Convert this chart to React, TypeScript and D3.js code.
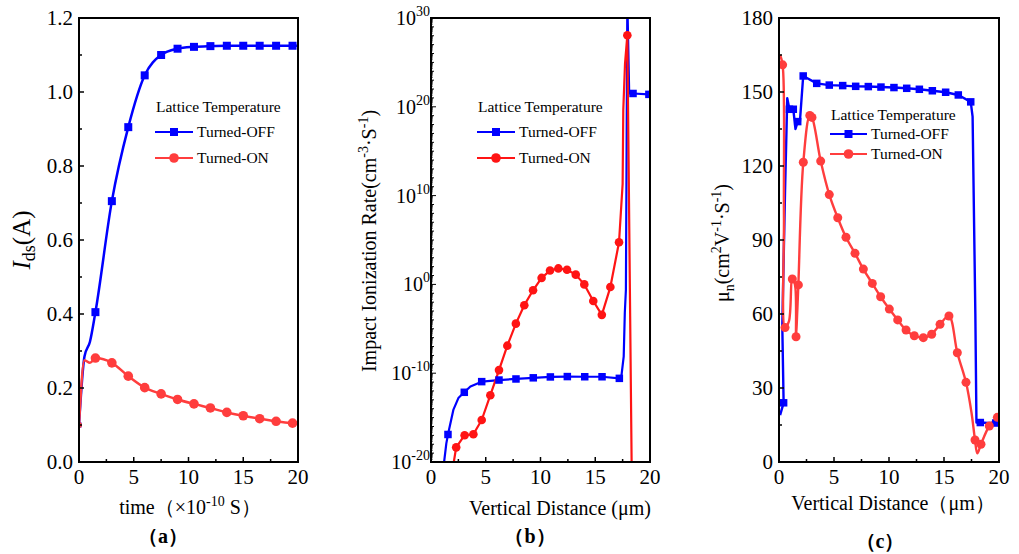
import React from "react";
import * as d3 from "d3";

const W = 1019;
const H = 554;
const FONT = "'Liberation Serif','Times New Roman',serif";
const BLUE = "#0000ff";
const RED_A = "#ff3d3d";
const RED_B = "#ff1414";

// ---------- Panel (a): Ids vs time ----------
const timeA = [0, 0.5, 1.0, 1.5, 3, 4.5, 6, 7.5, 9, 10.5, 12, 13.5, 15, 16.5, 18, 19.5, 20];
const offA = [0.1, 0.285, 0.325, 0.405, 0.705, 0.905, 1.045, 1.1, 1.117, 1.122, 1.124, 1.125, 1.125, 1.125, 1.125, 1.125, 1.125];
const onA = [0.1, 0.275, 0.268, 0.281, 0.268, 0.232, 0.201, 0.184, 0.169, 0.157, 0.146, 0.134, 0.125, 0.117, 0.11, 0.105, 0.104];
const markA = [0, 1.5, 3, 4.5, 6, 7.5, 9, 10.5, 12, 13.5, 15, 16.5, 18, 19.5];
const yTicksA = [0, 0.2, 0.4, 0.6, 0.8, 1.0, 1.2];
const xTicks = [0, 5, 10, 15, 20];

// ---------- Panel (b): impact ionization (log10 of rate) ----------
const distOffB = [1.1, 1.4, 1.55, 2.05, 2.5, 3.04, 3.6, 4.63, 6.21, 7.76, 9.34, 10.9, 12.45, 14.04, 15.62, 17.2, 17.4, 17.6, 17.7, 17.8, 17.93, 18.1, 18.45, 19.9, 20];
const expOffB = [-21, -17.9, -16.9, -14.1, -12.8, -12.15, -11.5, -10.95, -10.77, -10.65, -10.52, -10.42, -10.38, -10.4, -10.4, -10.58, -10.2, -8.1, -3.2, -0.6, 32, 21.5, 21.5, 21.4, 21.4];
const markOffB = [1.55, 3.04, 4.63, 6.21, 7.76, 9.34, 10.9, 12.45, 14.04, 15.62, 17.2, 18.45, 19.9];
const distOnB = [1.95, 2.3, 3.07, 3.87, 4.63, 5.42, 6.21, 6.97, 7.75, 8.52, 9.32, 10.1, 10.87, 11.63, 12.42, 13.22, 14.0, 14.82, 15.6, 16.38, 17.17, 17.5, 17.56, 17.72, 17.93, 18.33];
const expOnB = [-21, -18.35, -16.98, -16.88, -15.27, -12.48, -9.65, -6.9, -4.42, -2.34, -0.66, 0.73, 1.56, 1.8, 1.65, 1.1, 0, -1.87, -3.43, -0.3, 4.74, 11.3, 19.6, 24.9, 28.05, -21];
const markOnB = [2.3, 3.07, 3.87, 4.63, 5.42, 6.21, 6.97, 7.75, 8.52, 9.32, 10.1, 10.87, 11.63, 12.42, 13.22, 14.0, 14.82, 15.6, 16.38, 17.17, 17.93];
const yExpTicksB = [-20, -10, 0, 10, 20, 30];

// ---------- Panel (c): electron mobility ----------
const distOffC = [0.1, 0.42, 0.3, 0.55, 0.75, 0.95, 1.3, 1.5, 1.7, 1.9, 2.2, 3.43, 4.57, 5.79, 6.97, 8.12, 9.27, 10.45, 11.61, 12.76, 13.94, 15.15, 16.3, 17.43, 17.6, 17.85, 17.95, 18.3, 19.0, 19.7, 20];
const muOffC = [19, 24, 55, 110, 147.5, 143, 143, 135, 138, 138, 156.5, 153.5, 152.8, 152.6, 152.3, 152.2, 152, 151.8, 151.5, 151.1, 150.5, 149.9, 148.8, 146, 140, 60, 16, 16, 15.8, 15.8, 16];
const markOffC = [0.42, 0.95, 1.3, 1.7, 2.2, 3.43, 4.57, 5.79, 6.97, 8.12, 9.27, 10.45, 11.61, 12.76, 13.94, 15.15, 16.3, 17.43, 18.3, 19.7];
const distOnC = [0.1, 0.33, 0.45, 0.55, 0.9, 1.21, 1.45, 1.55, 1.65, 1.76, 2.21, 2.8, 3.0, 3.79, 4.57, 5.34, 6.09, 6.91, 7.67, 8.48, 9.24, 10.03, 10.79, 11.55, 12.3, 13.12, 13.88, 14.64, 15.45, 16.21, 17.0, 17.5, 17.82, 18.03, 18.36, 19.12, 19.85];
const muOnC = [165, 161, 100, 54.5, 57, 74.2, 72, 50.8, 60, 71.8, 121.5, 140.5, 139.7, 122, 108.4, 99, 91.1, 84.6, 78.2, 72.4, 67, 62, 57.6, 53.5, 51.2, 50.4, 51.8, 55.8, 59.2, 44.3, 32.3, 20, 8.9, 3.5, 7.2, 14.6, 18.1];
const markOnC = [0.33, 0.55, 1.21, 1.55, 1.76, 2.21, 2.8, 3.0, 3.79, 4.57, 5.34, 6.09, 6.91, 7.67, 8.48, 9.24, 10.03, 10.79, 11.55, 12.3, 13.12, 13.88, 14.64, 15.45, 16.21, 17.0, 17.82, 18.36, 19.12, 19.85];
const yTicksC = [0, 30, 60, 90, 120, 150, 180];

const legendTitle = "Lattice Temperature";
const legendOff = "Turned-OFF";
const legendOn = "Turned-ON";

type Box = { l: number; r: number; t: number; b: number };

function Frame({ box }: { box: Box }) {
  return (
    <rect x={box.l} y={box.t} width={box.r - box.l} height={box.b - box.t} fill="none" stroke="#000" strokeWidth={2} />
  );
}

function XAxis({ box, x }: { box: Box; x: d3.ScaleLinear<number, number> }) {
  const minors = d3.range(0, 20.01, 2.5);
  return (
    <g>
      {minors.map((v) => (
        <line key={"m" + v} x1={x(v)} x2={x(v)} y1={box.b} y2={box.b - (v % 5 === 0 ? 5 : 3)} stroke="#000" strokeWidth={1.5} />
      ))}
      {xTicks.map((v) => (
        <text key={v} x={x(v)} y={box.b + 22} textAnchor="middle" fontSize={21} fontFamily={FONT}>
          {v}
        </text>
      ))}
    </g>
  );
}

function YAxisLin({ box, y, ticks, minorStep, fmt }: { box: Box; y: d3.ScaleLinear<number, number>; ticks: number[]; minorStep: number; fmt: (v: number) => string }) {
  const [d0, d1] = y.domain();
  const minors = d3.range(d0, d1 + 1e-9, minorStep);
  return (
    <g>
      {minors.map((v, i) => (
        <line key={"m" + i} x1={box.l} x2={box.l + (i % 2 === 0 ? 5 : 3)} y1={y(v)} y2={y(v)} stroke="#000" strokeWidth={1.5} />
      ))}
      {ticks.map((v) => (
        <text key={v} x={box.l - 6} y={y(v) + 7} textAnchor="end" fontSize={21} fontFamily={FONT}>
          {fmt(v)}
        </text>
      ))}
    </g>
  );
}

function Square({ cx, cy, s, color }: { cx: number; cy: number; s: number; color: string }) {
  return <rect x={cx - s / 2} y={cy - s / 2} width={s} height={s} fill={color} />;
}

function Legend({ x, yTitle, yOff, yOn, red, sq, r, len }: { x: number; yTitle: number; yOff: number; yOn: number; red: string; sq: number; r: number; len: number }) {
  const mid = x + len / 2;
  return (
    <g fontFamily={FONT} fontSize={15.5}>
      <text x={x + 1} y={yTitle + 5}>{legendTitle}</text>
      <line x1={x} x2={x + len} y1={yOff} y2={yOff} stroke={BLUE} strokeWidth={2} />
      <Square cx={mid} cy={yOff} s={sq} color={BLUE} />
      <text x={x + len + 4} y={yOff + 5}>{legendOff}</text>
      <line x1={x} x2={x + len} y1={yOn} y2={yOn} stroke={red} strokeWidth={2} />
      <circle cx={mid} cy={yOn} r={r} fill={red} />
      <text x={x + len + 4} y={yOn + 5}>{legendOn}</text>
    </g>
  );
}

function PanelA() {
  const box: Box = { l: 79, r: 298, t: 18, b: 462 };
  const x = d3.scaleLinear().domain([0, 20]).range([box.l, box.r]);
  const y = d3.scaleLinear().domain([0, 1.2]).range([box.b, box.t]);
  const line = d3.line<number>().x((_, i) => x(timeA[i])).y((d) => y(d)).curve(d3.curveMonotoneX);
  const idx = (t: number) => timeA.indexOf(t);
  return (
    <g>
      <defs>
        <clipPath id="clipA">
          <rect x={box.l} y={box.t} width={box.r - box.l} height={box.b - box.t} />
        </clipPath>
      </defs>
      <g clipPath="url(#clipA)">
        <path d={line(offA) || ""} fill="none" stroke={BLUE} strokeWidth={2.5} />
        <path d={line(onA) || ""} fill="none" stroke={RED_A} strokeWidth={2.5} />
        {markA.map((t) => (
          <Square key={"s" + t} cx={x(t)} cy={y(offA[idx(t)])} s={t === 0 ? 5 : 8} color={BLUE} />
        ))}
        {markA.map((t) => (
          <circle key={"c" + t} cx={x(t)} cy={y(onA[idx(t)])} r={t === 0 ? 3 : 4.8} fill={RED_A} />
        ))}
      </g>
      <Frame box={box} />
      <XAxis box={box} x={x} />
      <YAxisLin box={box} y={y} ticks={yTicksA} minorStep={0.1} fmt={(v) => v.toFixed(1)} />
      <Legend x={155} yTitle={107} yOff={132} yOn={158} red={RED_A} sq={8} r={4.8} len={38} />
      <text transform="translate(30,240) rotate(-90)" textAnchor="middle" fontSize={25} fontFamily={FONT}>
        <tspan fontStyle="italic">I</tspan>
        <tspan fontSize={18} dy={5}>ds</tspan>
        <tspan dy={-5}>(A)</tspan>
      </text>
      <text x={190} y={514} textAnchor="middle" fontSize={20} fontFamily={FONT}>
        time（×10<tspan fontSize={14} dy={-8}>-10</tspan>
        <tspan dy={8}> S）</tspan>
      </text>
      <text x={163} y={543} textAnchor="middle" fontSize={20} fontWeight="bold" fontFamily={FONT}>（a）</text>
    </g>
  );
}

function PanelB() {
  const box: Box = { l: 431, r: 650, t: 18, b: 462 };
  const x = d3.scaleLinear().domain([0, 20]).range([box.l, box.r]);
  const y = d3.scaleLog().domain([1e-20, 1e30]).range([box.b, box.t]);
  const ye = (e: number) => y(Math.pow(10, e));
  const lineOff = d3.line<number>().x((_, i) => x(distOffB[i])).y((e) => ye(e));
  const lineOn = d3.line<number>().x((_, i) => x(distOnB[i])).y((e) => ye(e));
  const minorTicks: { v: number; len: number }[] = [];
  for (let e = -20; e < 30; e++) {
    minorTicks.push({ v: e, len: e % 10 === 0 ? 5 : 3 });
    for (let k = 2; k <= 9; k++) minorTicks.push({ v: e + Math.log10(k), len: 1.5 });
  }
  minorTicks.push({ v: 30, len: 5 });
  return (
    <g>
      <defs>
        <clipPath id="clipB">
          <rect x={box.l} y={box.t} width={box.r - box.l} height={box.b - box.t} />
        </clipPath>
      </defs>
      <g clipPath="url(#clipB)">
        <path d={lineOff(expOffB) || ""} fill="none" stroke={BLUE} strokeWidth={2.2} strokeLinejoin="round" />
        <path d={lineOn(expOnB) || ""} fill="none" stroke={RED_B} strokeWidth={2.2} strokeLinejoin="round" />
        {markOffB.map((d) => (
          <Square key={"s" + d} cx={x(d)} cy={ye(expOffB[distOffB.indexOf(d)])} s={7.5} color={BLUE} />
        ))}
        {markOnB.map((d) => (
          <circle key={"c" + d} cx={x(d)} cy={ye(expOnB[distOnB.indexOf(d)])} r={4.3} fill={RED_B} />
        ))}
      </g>
      <Frame box={box} />
      {minorTicks.map((m, i) => (
        <line key={i} x1={box.l} x2={box.l + m.len} y1={ye(m.v)} y2={ye(m.v)} stroke="#000" strokeWidth={1} />
      ))}
      <XAxis box={box} x={x} />
      {yExpTicksB.map((e) => (
        <text key={e} x={box.l - 1} y={ye(e) + 7} textAnchor="end" fontSize={20} fontFamily={FONT}>
          10<tspan fontSize={14} dy={-9}>{e}</tspan>
        </text>
      ))}
      <Legend x={477} yTitle={107} yOff={132} yOn={158} red={RED_B} sq={8} r={4.8} len={38} />
      <text transform="translate(376,241) rotate(-90)" textAnchor="middle" fontSize={20} fontFamily={FONT}>
        Impact Ionization Rate(cm<tspan fontSize={14} dy={-8}>-3</tspan>
        <tspan dy={8}>·S</tspan>
        <tspan fontSize={14} dy={-8}>-1</tspan>
        <tspan dy={8}>)</tspan>
      </text>
      <text x={560} y={515} textAnchor="middle" fontSize={20} fontFamily={FONT}>Vertical Distance (μm)</text>
      <text x={530} y={543} textAnchor="middle" fontSize={20} fontWeight="bold" fontFamily={FONT}>（b）</text>
    </g>
  );
}

function PanelC() {
  const box: Box = { l: 779, r: 999, t: 18, b: 462 };
  const x = d3.scaleLinear().domain([0, 20]).range([box.l, box.r]);
  const y = d3.scaleLinear().domain([0, 180]).range([box.b, box.t]);
  const lineOff = d3.line<number>().x((_, i) => x(distOffC[i])).y((d) => y(d));
  const lineOn = d3.line<number>().x((_, i) => x(distOnC[i])).y((d) => y(d)).curve(d3.curveCatmullRom.alpha(0.5));
  return (
    <g>
      <defs>
        <clipPath id="clipC">
          <rect x={box.l} y={box.t} width={box.r - box.l} height={box.b - box.t} />
        </clipPath>
      </defs>
      <g clipPath="url(#clipC)">
        <path d={lineOff(muOffC) || ""} fill="none" stroke={BLUE} strokeWidth={2.4} strokeLinejoin="round" />
        <path d={lineOn(muOnC) || ""} fill="none" stroke={RED_A} strokeWidth={2.4} strokeLinejoin="round" />
        {markOffC.map((d) => (
          <Square key={"s" + d} cx={x(d)} cy={y(muOffC[distOffC.indexOf(d)])} s={7.5} color={BLUE} />
        ))}
        {markOnC.map((d) => (
          <circle key={"c" + d} cx={x(d)} cy={y(muOnC[distOnC.indexOf(d)])} r={4.5} fill={RED_A} />
        ))}
      </g>
      <Frame box={box} />
      <XAxis box={box} x={x} />
      <YAxisLin box={box} y={y} ticks={yTicksC} minorStep={15} fmt={(v) => String(v)} />
      <Legend x={830} yTitle={115} yOff={134} yOn={154} red={RED_A} sq={8} r={4.8} len={37} />
      <text transform="translate(729,243) rotate(-90)" textAnchor="middle" fontSize={20} fontFamily={FONT}>
        μ<tspan fontSize={14} dy={5}>n</tspan>
        <tspan dy={-5}>(cm</tspan>
        <tspan fontSize={14} dy={-8}>2</tspan>
        <tspan dy={8}>V</tspan>
        <tspan fontSize={14} dy={-8}>-1</tspan>
        <tspan dy={8}>·S</tspan>
        <tspan fontSize={14} dy={-8}>-1</tspan>
        <tspan dy={8}>)</tspan>
      </text>
      <text x={893} y={510} textAnchor="middle" fontSize={20} fontFamily={FONT}>Vertical Distance（μm）</text>
      <text x={880} y={548} textAnchor="middle" fontSize={20} fontWeight="bold" fontFamily={FONT}>（c）</text>
    </g>
  );
}

export default function App() {
  return (
    <svg width={W} height={H} style={{ position: "absolute", left: 0, top: 0, background: "#fff" }}>
      <rect width={W} height={H} fill="#fff" />
      <PanelA />
      <PanelB />
      <PanelC />
    </svg>
  );
}
